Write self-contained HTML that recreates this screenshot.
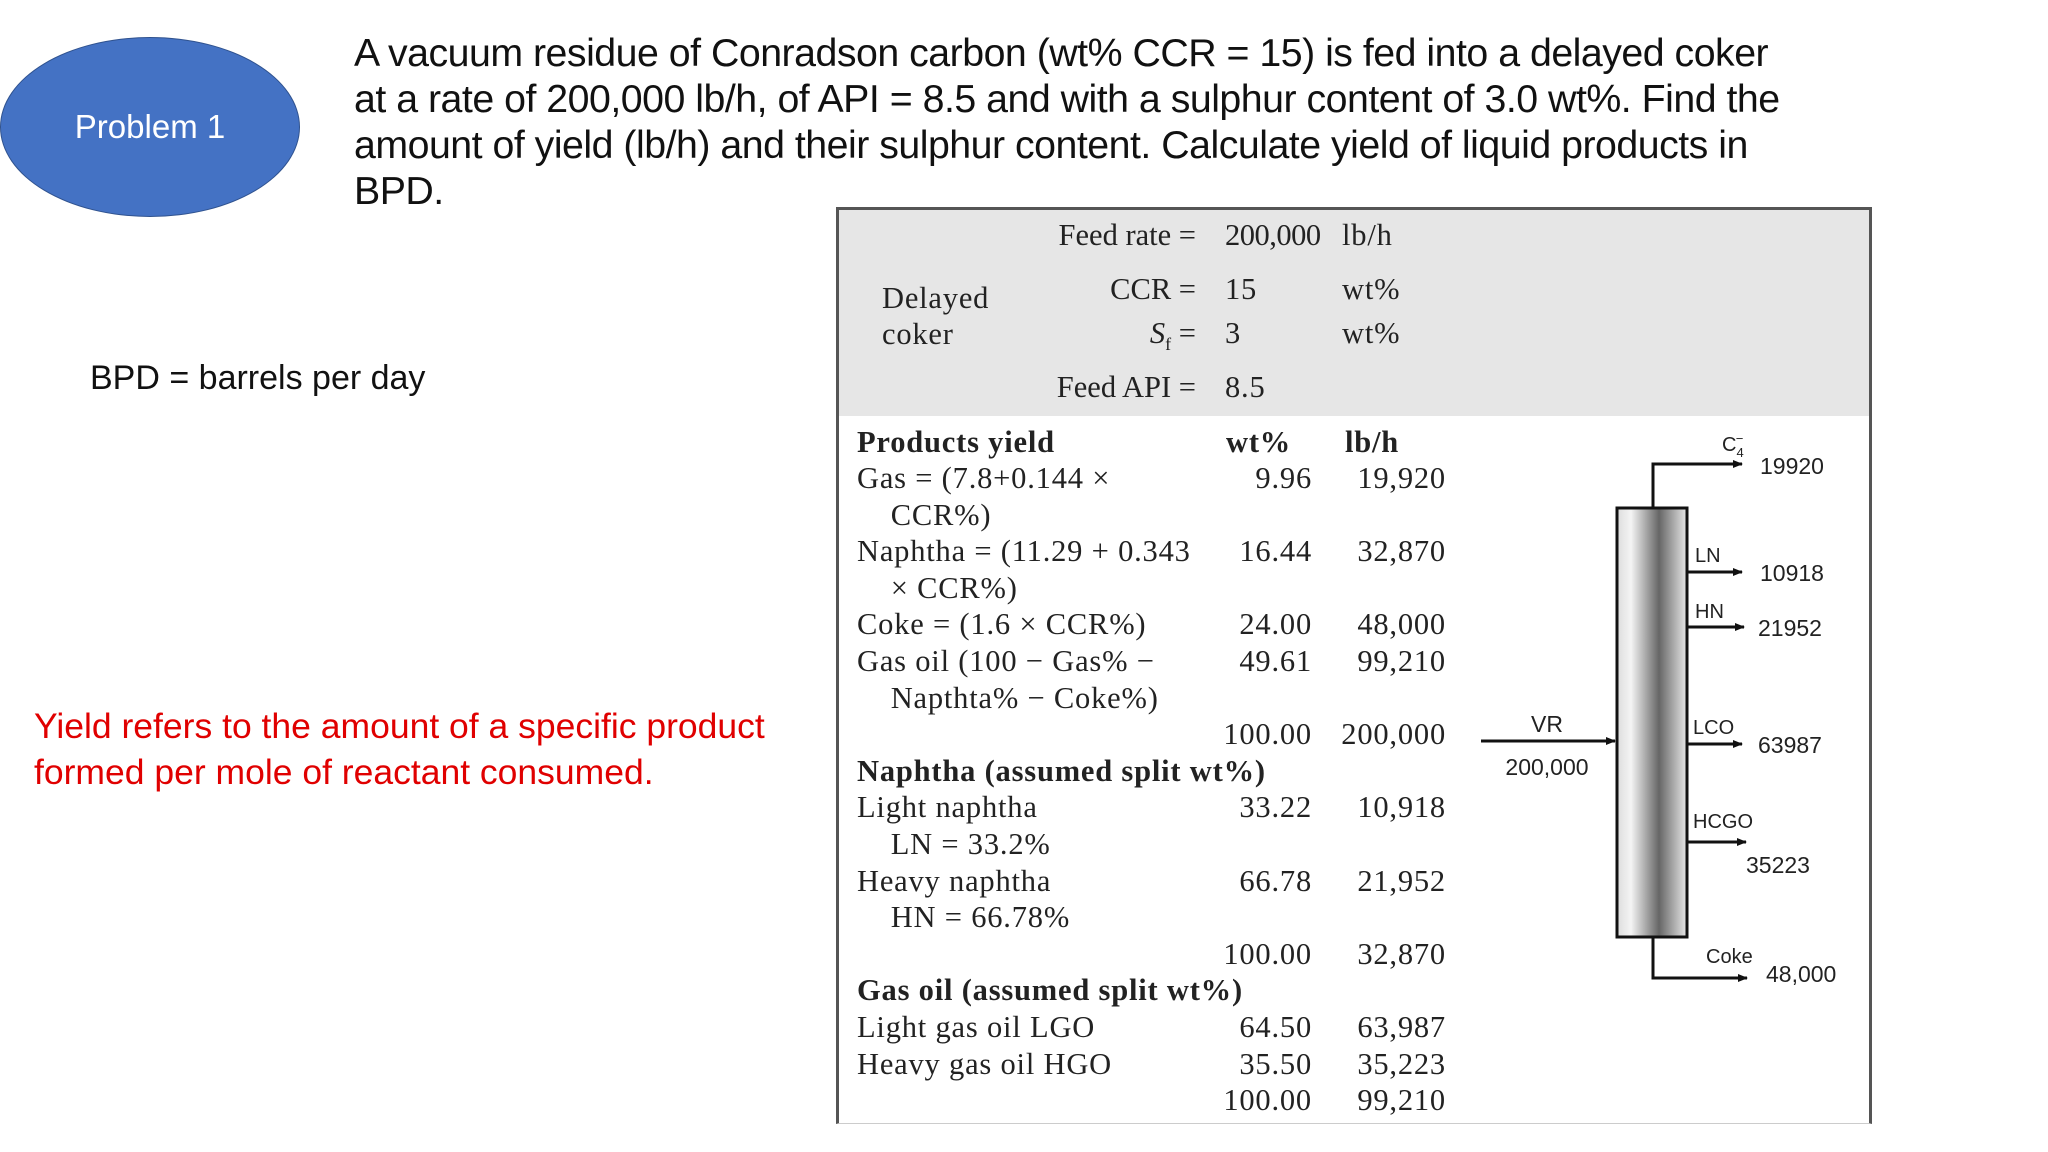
<!DOCTYPE html>
<html><head><meta charset="utf-8"><style>
body{margin:0;width:2048px;height:1152px;background:#fff;position:relative;overflow:hidden;font-family:"Liberation Sans",sans-serif;}
.a{position:absolute;white-space:nowrap;}
.s{font-family:"Liberation Serif",serif;font-size:30.5px;color:#222;line-height:36.6px;letter-spacing:0.8px;}
.r{text-align:right;}
</style></head><body>
<div class="a" style="left:0;top:37px;width:300px;height:180px;border-radius:50%;background:#4472C4;border:1px solid #2f528f;box-sizing:border-box;"></div>
<div class="a" style="left:0;top:108px;width:300px;text-align:center;color:#fff;font-size:33px;">Problem 1</div>
<div class="a" style="left:354px;top:30px;font-size:39.3px;line-height:46px;color:#111;letter-spacing:-0.5px;">A vacuum residue of Conradson carbon (wt% CCR = 15) is fed into a delayed coker<br>at a rate of 200,000 lb/h, of API = 8.5 and with a sulphur content of 3.0 wt%. Find the<br>amount of yield (lb/h) and their sulphur content. Calculate yield of liquid products in<br>BPD.</div>
<div class="a" style="left:90px;top:359px;font-size:34px;color:#111;">BPD = barrels per day</div>
<div class="a" style="left:34px;top:703px;font-size:35.5px;line-height:46px;color:#e00000;">Yield refers to the amount of a specific product<br>formed per mole of reactant consumed.</div>

<div class="a" style="left:836px;top:207px;width:1036px;height:917px;border:3px solid #555;border-bottom:1px solid #ccc;box-sizing:border-box;background:#fff;"></div>
<div class="a" style="left:839px;top:210px;width:1030px;height:206px;background:#e6e6e6;"></div>

<div class="a s r" style="left:900px;width:296px;top:217px;letter-spacing:0;">Feed rate =</div>
<div class="a s" style="left:1225px;top:217px;letter-spacing:-0.5px;">200,000</div>
<div class="a s" style="left:1342px;top:217px;">lb/h</div>
<div class="a s r" style="left:900px;width:296px;top:271px;letter-spacing:0;">CCR =</div>
<div class="a s" style="left:1225px;top:271px;">15</div>
<div class="a s" style="left:1342px;top:271px;">wt%</div>
<div class="a s r" style="left:900px;width:296px;top:315px;letter-spacing:0;"><i>S</i><sub style="font-size:18px">f</sub> =</div>
<div class="a s" style="left:1225px;top:315px;">3</div>
<div class="a s" style="left:1342px;top:315px;">wt%</div>
<div class="a s r" style="left:900px;width:296px;top:369px;letter-spacing:0;">Feed API =</div>
<div class="a s" style="left:1225px;top:369px;">8.5</div>
<div class="a s" style="left:882px;top:280px;line-height:36px;">Delayed<br>coker</div>

<div class="a s" style="left:857px;top:424px;font-weight:bold;">Products yield</div>
<div class="a s" style="left:1226px;top:424px;font-weight:bold;">wt%</div>
<div class="a s" style="left:1345px;top:424px;font-weight:bold;">lb/h</div>

<div id="rows"></div>

<svg class="a" style="left:0;top:0" width="2048" height="1152">
<defs>
<linearGradient id="g" x1="0" x2="1" y1="0" y2="0"><stop offset="0" stop-color="#ddd"/><stop offset="0.2" stop-color="#f4f4f4"/><stop offset="0.6" stop-color="#666"/><stop offset="1" stop-color="#e8e8e8"/></linearGradient>
<marker id="ar" markerWidth="10" markerHeight="10" refX="9" refY="5" orient="auto" markerUnits="userSpaceOnUse"><path d="M0,1 L10,5 L0,9 z" fill="#111"/></marker>
</defs>
<g stroke="#111" stroke-width="3" fill="none">
<path d="M1653,508 V464 H1742" marker-end="url(#ar)"/>
<path d="M1687,572 H1742" marker-end="url(#ar)"/>
<path d="M1687,627 H1744" marker-end="url(#ar)"/>
<path d="M1687,744 H1742" marker-end="url(#ar)"/>
<path d="M1687,842 H1746" marker-end="url(#ar)"/>
<path d="M1653,937 V978 H1747" marker-end="url(#ar)"/>
<path d="M1481,741 H1615" marker-end="url(#ar)"/>
</g>
<rect x="1617" y="508" width="70" height="429" fill="url(#g)" stroke="#111" stroke-width="3"/>
<g font-family="Liberation Sans, sans-serif" fill="#222">
<text x="1722" y="451" font-size="20">C<tspan font-size="13" dy="6">4</tspan><tspan font-size="13" dx="-8" dy="-14">−</tspan></text>
<text x="1760" y="474" font-size="23">19920</text>
<text x="1695" y="562" font-size="20">LN</text><text x="1760" y="581" font-size="23">10918</text>
<text x="1695" y="618" font-size="20">HN</text><text x="1758" y="636" font-size="23">21952</text>
<text x="1693" y="734" font-size="20">LCO</text><text x="1758" y="753" font-size="23">63987</text>
<text x="1693" y="828" font-size="20">HCGO</text><text x="1746" y="873" font-size="23">35223</text>
<text x="1706" y="963" font-size="20">Coke</text><text x="1766" y="982" font-size="23">48,000</text>
<text x="1547" y="732" font-size="23" text-anchor="middle">VR</text>
<text x="1547" y="775" font-size="23" text-anchor="middle">200,000</text>
</g>
</svg>

<script>
const rowLabels=["Gas = (7.8+0.144 ×","&nbsp;&nbsp;&nbsp;&nbsp;CCR%)","Naphtha = (11.29 + 0.343","&nbsp;&nbsp;&nbsp;&nbsp;× CCR%)","Coke = (1.6 × CCR%)","Gas oil (100 − Gas% −","&nbsp;&nbsp;&nbsp;&nbsp;Napthta% − Coke%)","","<b>Naphtha (assumed split wt%)</b>","Light naphtha","&nbsp;&nbsp;&nbsp;&nbsp;LN = 33.2%","Heavy naphtha","&nbsp;&nbsp;&nbsp;&nbsp;HN = 66.78%","","<b>Gas oil (assumed split wt%)</b>","Light gas oil LGO","Heavy gas oil HGO",""];
const rowWt=["9.96","","16.44","","24.00","49.61","","100.00","","33.22","","66.78","","100.00","","64.50","35.50","100.00"];
const rowLb=["19,920","","32,870","","48,000","99,210","","200,000","","10,918","","21,952","","32,870","","63,987","35,223","99,210"];
const host=document.getElementById('rows');
rowLabels.forEach((t,i)=>{
  const y=460+i*36.6;
  const a=document.createElement('div');a.className='a s';a.style.left='857px';a.style.top=y+'px';a.innerHTML=t;
  
  
  host.appendChild(a);
  const b=document.createElement('div');b.className='a s r';b.style.left='1150px';b.style.width='162px';b.style.top=y+'px';b.textContent=rowWt[i];
  
  
  host.appendChild(b);
  const c=document.createElement('div');c.className='a s r';c.style.left='1290px';c.style.width='156px';c.style.top=y+'px';c.textContent=rowLb[i];
  
  
  host.appendChild(c);
});
</script>
</body></html>
